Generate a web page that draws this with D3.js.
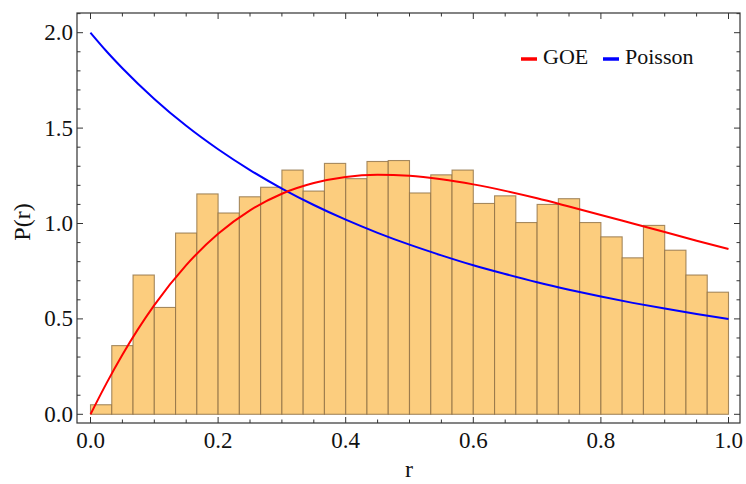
<!DOCTYPE html>
<html>
<head>
<meta charset="utf-8">
<script src="https://cdn.jsdelivr.net/npm/d3@7"></script>
<style>
  body { margin: 0; background: #fff; }
</style>
</head>
<body>
<svg id="chart" width="746" height="484"></svg>
<script>
const svg = d3.select('#chart')
  .style('font-family', "'Liberation Serif', 'Times New Roman', serif")
const textColor = '#111'

// histogram: 30 bins on [0,1]
const binEdges = d3.range(0, 31).map(i => i / 30)
const binHeights = [0.05, 0.36, 0.73, 0.56, 0.95, 1.155, 1.055, 1.14, 1.19, 1.28,
  1.17, 1.315, 1.235, 1.325, 1.33, 1.16, 1.255, 1.28, 1.105, 1.145,
  1.005, 1.10, 1.13, 1.005, 0.93, 0.82, 0.99, 0.86, 0.73, 0.64]

// curves
const curveR = [0, 0.025, 0.05, 0.1, 0.15, 0.2, 0.25, 0.3, 0.35, 0.4, 0.45, 0.5,
  0.55, 0.6, 0.65, 0.7, 0.75, 0.8, 0.85, 0.9, 0.95, 1.0]
const goeP = [0, 0.162, 0.312, 0.572, 0.782, 0.946, 1.069, 1.156, 1.212, 1.244, 1.255, 1.250,
  1.232, 1.205, 1.171, 1.132, 1.089, 1.045, 1.000, 0.955, 0.910, 0.866]
const poissonP = [2.0, 1.903, 1.814, 1.653, 1.512, 1.389, 1.280, 1.183, 1.097, 1.020, 0.951, 0.889,
  0.833, 0.781, 0.735, 0.692, 0.653, 0.617, 0.584, 0.554, 0.526, 0.500]

const xMajor = [0, 0.2, 0.4, 0.6, 0.8, 1.0]
const xMinor = d3.range(0, 21).map(i => i * 0.05)
const yMajor = [0, 0.5, 1.0, 1.5, 2.0]
const yMinor = d3.range(0, 22).map(i => i * 0.1)

const frame = { left: 77, right: 740, top: 13, bottom: 423 }

const x = d3.scaleLinear().domain([0, 1]).range([90.5, 728.5])
const y = d3.scaleLinear().domain([0, 2]).range([414.3, 32.7])

// bars
svg.append('g')
  .selectAll('rect')
  .data(binHeights)
  .enter()
  .append('rect')
    .attr('x', (d, i) => x(binEdges[i]))
    .attr('width', (d, i) => x(binEdges[i + 1]) - x(binEdges[i]))
    .attr('y', d => y(d))
    .attr('height', d => y(0) - y(d))
    .attr('fill', '#fccd7e')
    .attr('stroke', '#8e7045')
    .attr('stroke-opacity', 0.8)
    .attr('stroke-width', 1.1)

const line = d3.line()
  .x((d, i) => x(curveR[i]))
  .y(d => y(d))
  .curve(d3.curveMonotoneX)

svg.append('path')
  .attr('d', line(poissonP))
  .attr('fill', 'none')
  .attr('stroke', '#0000ff')
  .attr('stroke-width', 2)

svg.append('path')
  .attr('d', line(goeP))
  .attr('fill', 'none')
  .attr('stroke', '#ff0000')
  .attr('stroke-width', 2)

// frame
svg.append('rect')
  .attr('x', frame.left)
  .attr('y', frame.top)
  .attr('width', frame.right - frame.left)
  .attr('height', frame.bottom - frame.top)
  .attr('fill', 'none')
  .attr('stroke', '#333')
  .attr('stroke-width', 1.2)

const ticks = svg.append('g').attr('stroke', '#333').attr('stroke-width', 1)
const isMajor = (v, list) => list.some(m => Math.abs(m - v) < 1e-6)

xMinor.forEach(v => {
  const len = isMajor(v, xMajor) ? 6 : 3.5
  ticks.append('line').attr('x1', x(v)).attr('x2', x(v))
    .attr('y1', frame.bottom).attr('y2', frame.bottom - len)
  ticks.append('line').attr('x1', x(v)).attr('x2', x(v))
    .attr('y1', frame.top).attr('y2', frame.top + len)
})
yMinor.forEach(v => {
  const len = isMajor(v, yMajor) ? 6 : 3.5
  ticks.append('line').attr('y1', y(v)).attr('y2', y(v))
    .attr('x1', frame.left).attr('x2', frame.left + len)
  ticks.append('line').attr('y1', y(v)).attr('y2', y(v))
    .attr('x1', frame.right).attr('x2', frame.right - len)
})

// tick labels
svg.append('g')
  .selectAll('text')
  .data(xMajor)
  .enter()
  .append('text')
    .attr('x', d => x(d))
    .attr('y', 448)
    .attr('text-anchor', 'middle')
    .attr('font-size', '23px')
    .attr('fill', textColor)
    .text(d => d.toFixed(1))

svg.append('g')
  .selectAll('text')
  .data(yMajor)
  .enter()
  .append('text')
    .attr('x', 73)
    .attr('y', d => y(d) + 7.5)
    .attr('text-anchor', 'end')
    .attr('font-size', '23px')
    .attr('fill', textColor)
    .text(d => d.toFixed(1))

// axis titles
svg.append('text')
  .attr('x', 409)
  .attr('y', 477)
  .attr('text-anchor', 'middle')
  .attr('font-size', '24px')
  .attr('fill', textColor)
  .text('r')

svg.append('text')
  .attr('transform', 'translate(30, 222) rotate(-90)')
  .attr('text-anchor', 'middle')
  .attr('font-size', '24px')
  .attr('fill', textColor)
  .text('P(r)')

// legend
const legend = [
  { name: 'GOE', color: '#ff0000', x: 521 },
  { name: 'Poisson', color: '#0000ff', x: 603 }
]
legend.forEach(l => {
  svg.append('line')
    .attr('x1', l.x).attr('x2', l.x + 16)
    .attr('y1', 59).attr('y2', 59)
    .attr('stroke', l.color).attr('stroke-width', 3.5)
  svg.append('text')
    .attr('x', l.x + 22)
    .attr('y', 64)
    .attr('font-size', '22px')
    .attr('fill', textColor)
    .text(l.name)
})
</script>
</body>
</html>
